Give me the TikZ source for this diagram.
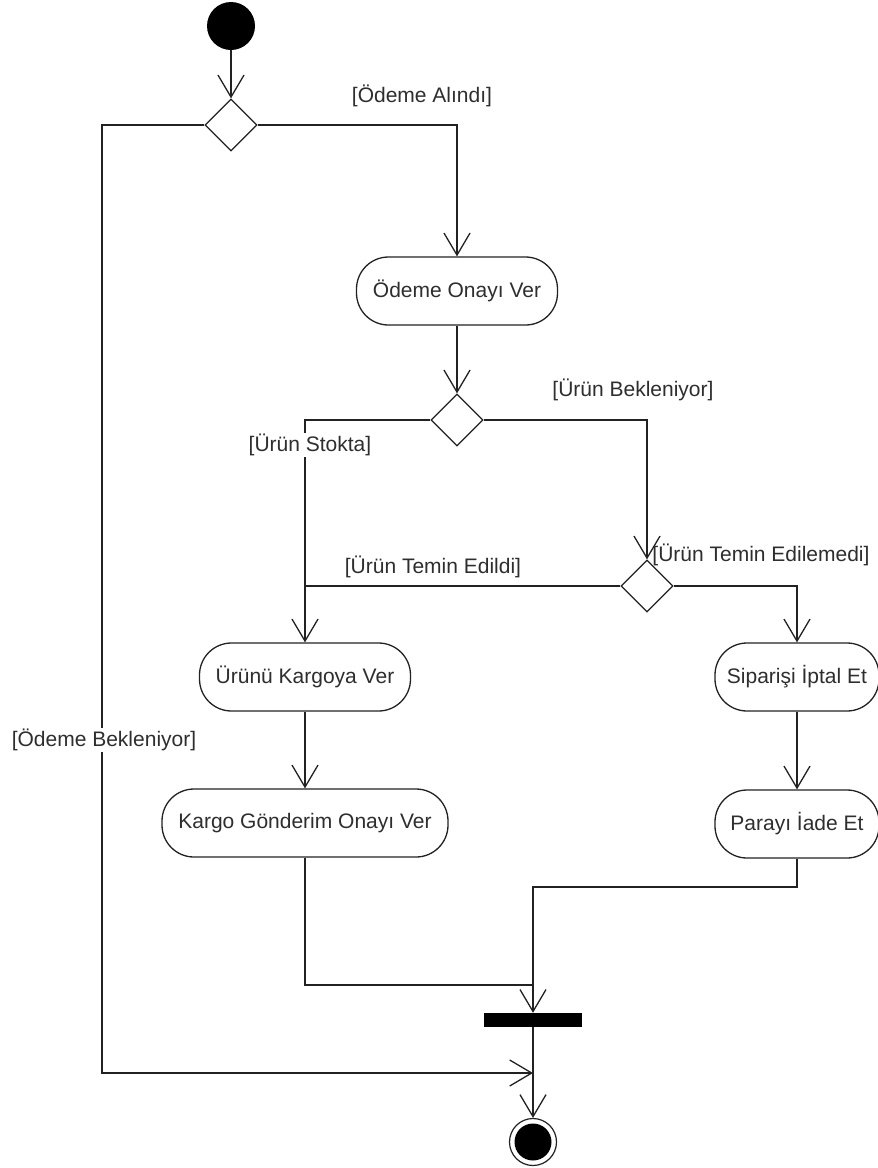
\documentclass[tikz,border=0pt]{standalone}
\usepackage{fontspec}
\setmainfont{Liberation Sans}
\usetikzlibrary{arrows.meta,shapes.geometric}
\definecolor{ink}{HTML}{222222}
\definecolor{txt}{HTML}{2E2E2E}
\begin{document}
\begin{tikzpicture}[x=1pt,y=-1pt,
  every node/.style={font=\fontsize{21}{25}\selectfont, text=txt},
  line/.style={draw=ink, line width=1.3pt},
  arr/.style={line, -{Straight Barb[length=22pt,width=26pt,line width=1.3pt]}},
  act/.style={draw=ink, line width=1.3pt, rounded corners=32pt, minimum height=68pt, inner sep=0pt, fill=white},
  dec/.style={draw=ink, line width=1.3pt, diamond, minimum width=52pt, minimum height=52pt, inner sep=0pt, fill=white},
  guard/.style={inner sep=1pt},
  guardw/.style={inner sep=1pt, fill=white}
]
\useasboundingbox (0,0) rectangle (878,1168);
\fill[white] (0,0) rectangle (878,1168);

% nodes
\node[circle, fill=black, minimum size=48pt, inner sep=0pt] (start) at (231,26) {};
\node[dec] (d1) at (231,125) {};
\node[act, minimum width=201pt] (a1) at (457,291) {Ödeme Onayı Ver};
\node[dec] (d2) at (457,420) {};
\node[dec] (d3) at (647,586) {};
\node[act, minimum width=211pt] (a2) at (305,677) {Ürünü Kargoya Ver};
\node[act, minimum width=164pt] (a3) at (797,677) {Siparişi İptal Et};
\node[act, minimum width=286pt] (a4) at (305,823) {Kargo Gönderim Onayı Ver};
\node[act, minimum width=164pt] (a5) at (797,824) {Parayı İade Et};
\node[rectangle, fill=black, minimum width=98pt, minimum height=14pt, inner sep=0pt] (bar) at (533,1020) {};
\node[circle, draw=ink, line width=1.2pt, minimum size=47pt, inner sep=0pt] (end) at (533,1142) {};
\node[circle, fill=black, minimum size=37pt, inner sep=0pt] at (end.center) {};

\coordinate (cL) at (102,1073);
\coordinate (j1) at (533,1073);
\coordinate (j2) at (533,985);
\coordinate (j3) at (533,887);

% connectors
\draw[arr] (start) -- (d1.north);
\draw[arr] (d1.east) -| (a1.north);
\draw[arr] (d1.west) -| (cL) -- (j1);
\draw[arr] (a1.south) -- (d2.north);
\draw[arr] (d2.east) -| (d3.north);
\draw[arr] (d2.west) -| (a2.north);
\draw[line] (d3.west) -- (d3.west -| a2.north);
\draw[arr] (d3.east) -| (a3.north);
\draw[arr] (a2.south) -- (a4.north);
\draw[arr] (a3.south) -- (a5.south |- a5.north);
\draw[line] (a4.south) |- (j2);
\draw[arr] (a5.south) |- (j3) -- (bar.north);
\draw[arr] (bar.south) -- (end.north);

% guards
\node[guard] (g1) at (422,96) {[Ödeme Alındı]};
\node[guard] (g2) at (633,390) {[Ürün Bekleniyor]};
\node[guardw] (g3) at (310,445) {[Ürün Stokta]};
\node[guardw] (g4) at (104,740) {[Ödeme Bekleniyor]};
\node[guard] (g5) at (433,567) {[Ürün Temin Edildi]};
\node[guard] (g6) at (761,555) {[Ürün Temin Edilemedi]};
\end{tikzpicture}
\end{document}
